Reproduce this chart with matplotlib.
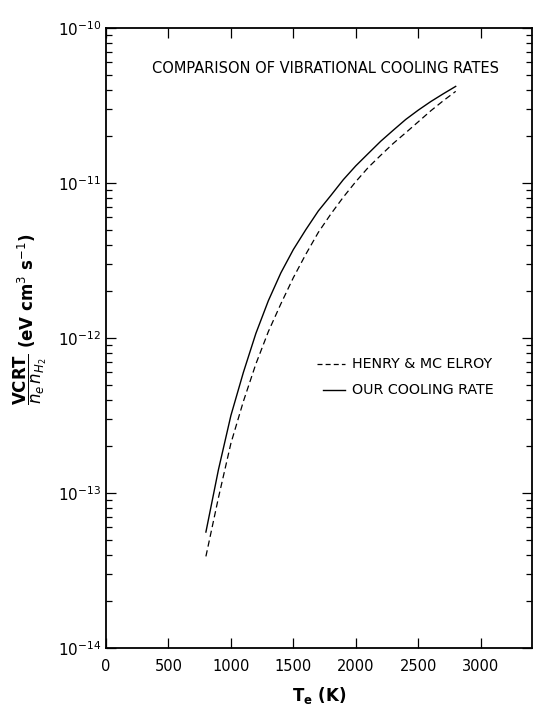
import numpy as np
import matplotlib
matplotlib.use("Agg")
import matplotlib.pyplot as plt
from matplotlib.ticker import LogLocator, NullFormatter, FixedLocator

### electron temperature (K) vs cooling rate
T_e = [800, 900, 1000, 1100, 1200, 1300, 1400, 1500, 1600, 1700, 1800,
       1900, 2000, 2100, 2200, 2300, 2400, 2500, 2600, 2700, 2800]
ours = [5.6e-14, 1.41e-13, 3.16e-13, 6.0e-13, 1.07e-12, 1.74e-12, 2.63e-12, 3.72e-12, 5.0e-12,
        6.6e-12, 8.3e-12, 1.05e-11, 1.29e-11, 1.55e-11, 1.86e-11, 2.19e-11, 2.57e-11,
        2.95e-11, 3.35e-11, 3.76e-11, 4.2e-11]
henry = [3.9e-14, 9.3e-14, 2.09e-13, 3.9e-13, 6.8e-13, 1.10e-12, 1.66e-12, 2.45e-12, 3.47e-12,
         4.8e-12, 6.3e-12, 8.1e-12, 1.02e-11, 1.26e-11, 1.51e-11, 1.80e-11, 2.11e-11,
         2.48e-11, 2.92e-11, 3.39e-11, 3.9e-11]

x_ticks = [0, 500, 1000, 1500, 2000, 2500, 3000]
y_ticks = [1e-14, 1e-13, 1e-12, 1e-11, 1e-10]

plt.rcParams['font.family'] = ['DejaVu Sans']

fig = plt.figure(figsize=(5.34, 7.14), dpi=100)
ax = fig.add_axes([0.1985, 0.0924, 0.7975, 0.8684])

ax.plot(T_e, henry, color='black', lw=0.9, ls=(0, (5, 3)))
ax.plot(T_e, ours, color='black', lw=1.0)

ax.set_yscale('log')
ax.set_xlim(0, 3410)
ax.set_ylim(1e-14, 1e-10)

ax.xaxis.set_major_locator(FixedLocator(x_ticks))
ax.set_xticklabels([str(v) for v in x_ticks], fontsize=10.5)
ax.yaxis.set_major_locator(FixedLocator(y_ticks))
ax.set_yticklabels([r'$10^{%d}$' % int(np.log10(v)) for v in y_ticks], fontsize=11)
ax.yaxis.set_minor_locator(LogLocator(base=10, subs=np.arange(2, 10)))
ax.yaxis.set_minor_formatter(NullFormatter())

ax.tick_params(which='both', direction='in', top=True, right=True, width=0.9)
ax.tick_params(which='major', length=7)
ax.tick_params(which='minor', length=4)
ax.tick_params(axis='x', pad=8)
for s in ax.spines.values():
    s.set_linewidth(1.3)

ax.text(0.515, 0.935, 'COMPARISON OF VIBRATIONAL COOLING RATES', transform=ax.transAxes,
        ha='center', va='center', fontsize=10.5)

# legend drawn by hand like the original
ax.plot([1690, 1915], [6.8e-13, 6.8e-13], color='black', lw=0.9, ls=(0, (4, 2.5)))
ax.text(1970, 6.8e-13, 'HENRY & MC ELROY', fontsize=10.3, va='center')
ax.plot([1740, 1915], [4.6e-13, 4.6e-13], color='black', lw=1.0)
ax.text(1970, 4.6e-13, 'OUR COOLING RATE', fontsize=10.3, va='center')

ax.set_xlabel(r'$\mathbf{T_e}$' + ' (K)', fontsize=12, fontweight='bold', labelpad=8)
ax.set_ylabel(r'$\dfrac{\mathbf{VCRT}}{n_e\, n_{H_2}}$' + r' (eV cm$^3$ s$^{-1}$)',
              fontsize=12, fontweight='bold')
ax.yaxis.set_label_coords(-0.135, 0.53)

fig.savefig('out.png', dpi=100)
